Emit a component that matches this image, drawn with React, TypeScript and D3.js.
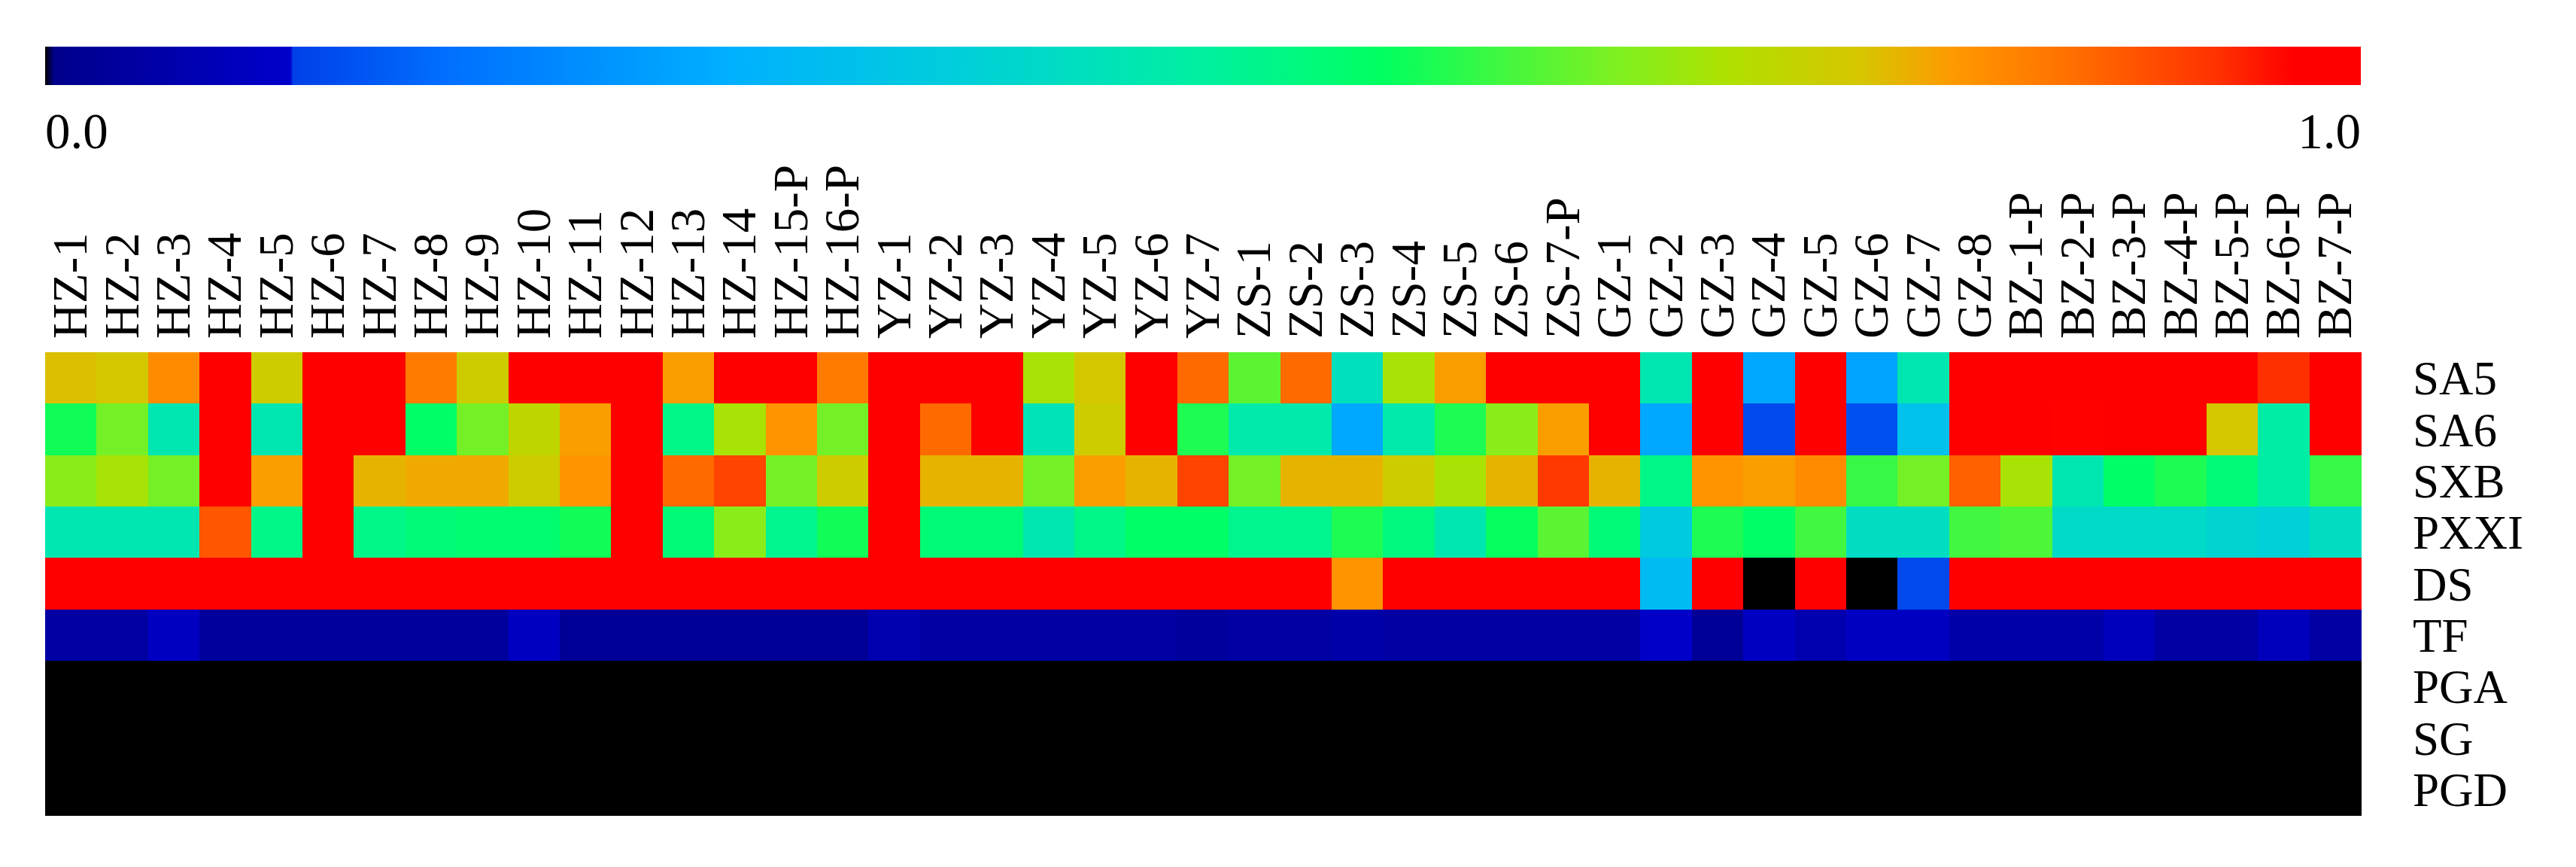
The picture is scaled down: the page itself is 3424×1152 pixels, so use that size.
import React from "react";
import * as d3 from "d3";

// sample columns and variables
const columns = [
  "HZ-1", "HZ-2", "HZ-3", "HZ-4", "HZ-5", "HZ-6", "HZ-7", "HZ-8", "HZ-9", "HZ-10",
  "HZ-11", "HZ-12", "HZ-13", "HZ-14", "HZ-15-P", "HZ-16-P",
  "YZ-1", "YZ-2", "YZ-3", "YZ-4", "YZ-5", "YZ-6", "YZ-7",
  "ZS-1", "ZS-2", "ZS-3", "ZS-4", "ZS-5", "ZS-6", "ZS-7-P",
  "GZ-1", "GZ-2", "GZ-3", "GZ-4", "GZ-5", "GZ-6", "GZ-7", "GZ-8",
  "BZ-1-P", "BZ-2-P", "BZ-3-P", "BZ-4-P", "BZ-5-P", "BZ-6-P", "BZ-7-P",
];

const rows = ["SA5", "SA6", "SXB", "PXXI", "DS", "TF", "PGA", "SG", "PGD"];

const SA5 = [
  0.79, 0.78, 0.84, 1, 0.77, 1, 1, 0.86, 0.77, 1, 1, 1, 0.82, 1, 1, 0.86,
  1, 1, 1, 0.72, 0.78, 1, 0.88, 0.65, 0.88, 0.45, 0.72, 0.82, 1, 1, 1,
  0.47, 1, 0.28, 1, 0.27, 0.47, 1, 1, 1, 1, 1, 1, 0.94, 1,
];
const SA6 = [
  0.59, 0.67, 0.47, 1, 0.47, 1, 1, 0.57, 0.67, 0.75, 0.82, 1, 0.53, 0.72, 0.83, 0.67,
  1, 0.88, 1, 0.46, 0.77, 1, 0.6, 0.48, 0.48, 0.28, 0.48, 0.6, 0.69, 0.82, 1,
  0.28, 1, 0.12, 1, 0.13, 0.35, 1, 1, 0.97, 0.99, 1, 0.78, 0.49, 1,
];
const SXB = [
  0.69, 0.72, 0.67, 1, 0.82, 1, 0.8, 0.81, 0.81, 0.77, 0.83, 1, 0.88, 0.92, 0.67, 0.77,
  1, 0.8, 0.8, 0.67, 0.82, 0.8, 0.92, 0.67, 0.8, 0.8, 0.77, 0.72, 0.8, 0.93, 0.8,
  0.53, 0.83, 0.82, 0.84, 0.62, 0.67, 0.89, 0.72, 0.47, 0.57, 0.6, 0.55, 0.49, 0.62,
];
const PXXI = [
  0.47, 0.47, 0.47, 0.9, 0.53, 1, 0.53, 0.55, 0.56, 0.56, 0.59, 1, 0.55, 0.69, 0.52, 0.59,
  1, 0.55, 0.55, 0.47, 0.53, 0.57, 0.57, 0.52, 0.52, 0.6, 0.54, 0.47, 0.58, 0.65, 0.55,
  0.38, 0.6, 0.57, 0.63, 0.44, 0.44, 0.63, 0.64, 0.43, 0.43, 0.43, 0.41, 0.4, 0.44,
];
const DS = [
  1, 1, 1, 1, 1, 1, 1, 1, 1, 1, 1, 1, 1, 1, 1, 1,
  1, 1, 1, 1, 1, 1, 1, 1, 1, 0.83, 1, 1, 1, 1, 1,
  0.33, 1, 0, 1, 0, 0.12, 1, 1, 1, 1, 1, 1, 1, 1,
];
const TF = [
  0.04, 0.04, 0.09, 0.03, 0.03, 0.03, 0.03, 0.03, 0.03, 0.09, 0.02, 0.02, 0.02, 0.02, 0.02, 0.02,
  0.06, 0.04, 0.04, 0.04, 0.04, 0.04, 0.03, 0.04, 0.04, 0.05, 0.04, 0.04, 0.04, 0.04, 0.04,
  0.1, 0.02, 0.09, 0.06, 0.09, 0.09, 0.05, 0.05, 0.05, 0.08, 0.04, 0.04, 0.08, 0.04,
];
const PGA = columns.map(() => 0);
const SG = columns.map(() => 0);
const PGD = columns.map(() => 0);

const values = [SA5, SA6, SXB, PXXI, DS, TF, PGA, SG, PGD];

// colour map
const cmapStops = [0, 0.004, 0.106, 0.107, 0.175, 0.295, 0.4, 0.5, 0.577, 0.68, 0.728, 0.786, 0.825, 0.874, 0.939, 0.971, 1];
const cmapColors = [
  "#000000", "#00008c", "#0000cc", "#0040e8", "#0070ff", "#00b0ff", "#00d0d8", "#00f0a0",
  "#00ff60", "#80f020", "#b0e000", "#d8c400", "#ff9800", "#ff7000", "#ff3000", "#ff0000", "#ff0000",
];

const legendTicks = ["0.0", "1.0"];

const App = () => {
  const width = 3424;
  const height = 1152;
  const font = "'Liberation Serif', 'Times New Roman', serif";

  const color = d3
    .scaleLinear<string>()
    .domain(cmapStops)
    .range(cmapColors)
    .interpolate(d3.interpolateRgb)
    .clamp(true);

  const x = d3.scaleBand().domain(columns).range([60, 3138]);
  const y = d3.scaleBand().domain(rows).range([468, 1083]);
  const legendX = d3.scaleLinear().domain([0, 1]).range([60, 3138]);

  const cells = rows.flatMap((r, i) =>
    columns.map((c, j) => ({ r, c, v: values[i][j] }))
  );

  return (
    <svg
      width={width}
      height={height}
      style={{ position: "absolute", left: 0, top: 0, background: "#fff" }}
    >
      <defs>
        <linearGradient id="cbar" x1="0" x2="1" y1="0" y2="0">
          {cmapStops.map((s, i) => (
            <stop key={i} offset={s} stopColor={cmapColors[i]} />
          ))}
        </linearGradient>
      </defs>

      {/* colour bar */}
      <rect
        x={legendX(0)}
        y={62}
        width={legendX(1) - legendX(0)}
        height={51}
        fill="url(#cbar)"
      />
      {legendTicks.map((t, i) => (
        <text
          key={t}
          x={legendX(i)}
          y={197}
          textAnchor={i === 0 ? "start" : "end"}
          fontFamily={font}
          fontSize={67}
        >
          {t}
        </text>
      ))}

      {/* heatmap cells */}
      <g shapeRendering="crispEdges">
        {cells.map((d) => (
          <rect
            key={d.r + d.c}
            x={x(d.c)}
            y={y(d.r)}
            width={x.bandwidth() + 0.6}
            height={y.bandwidth() + 0.6}
            fill={color(d.v)}
          />
        ))}
      </g>

      {/* column labels */}
      {columns.map((c) => {
        const cx = (x(c) as number) + x.bandwidth() / 2;
        return (
          <text
            key={c}
            transform={`translate(${cx + 21},450) rotate(-90)`}
            fontFamily={font}
            fontSize={65}
          >
            {c}
          </text>
        );
      })}

      {/* row labels */}
      {rows.map((r) => (
        <text
          key={r}
          x={3207}
          y={(y(r) as number) + y.bandwidth() / 2 + 22}
          fontFamily={font}
          fontSize={63}
        >
          {r}
        </text>
      ))}
    </svg>
  );
};

export default App;
